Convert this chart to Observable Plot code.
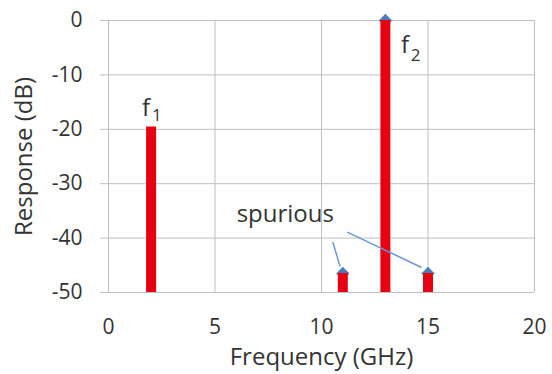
<!DOCTYPE html>
<html>
<head>
<meta charset="utf-8">
<script src="https://cdn.jsdelivr.net/npm/d3@7"></script>
<script src="https://cdn.jsdelivr.net/npm/@observablehq/plot@0.6"></script>
<style>
  html, body { margin: 0; padding: 0; background: #fff; }
  #chart svg { display: block; }
</style>
</head>
<body>
<div id="chart"></div>
<script>
// Spectral lines: frequency (GHz) and response (dB)
const lineFreq = [2, 11, 13, 15];
const lineResp = [-19.6, -46.5, 0, -46.5];

// Diamond markers (only visible on the last three lines)
const markerFreq = [11, 13, 15];
const markerResp = [-46.5, 0, -46.5];

// Axis ticks
const xTicks = [0, 5, 10, 15, 20];
const yTicks = [0, -10, -20, -30, -40, -50];

// Labels "f" with subscripts
const labelText = ["f", "f"];
const labelX = [1.76, 13.92];
const labelY = [-17.6, -6.0];
const subText = ["1", "2"];
const subX = [2.27, 14.42];
const subY = [-18.4, -7.4];

// "spurious" annotation and its leader lines
const annText = ["spurious"];
const annX = [8.3];
const annY = [-35.6];
const leadX1 = [10.53, 11.21];
const leadY1 = [-40.7, -38.9];
const leadX2 = [10.87, 14.70];
const leadY2 = [-45.2, -45.4];

const bars = lineFreq.map((f, i) => ({f, r: lineResp[i]}));
const markers = markerFreq.map((f, i) => ({f, r: markerResp[i]}));
const labels = labelText.map((t, i) => ({t, x: labelX[i], y: labelY[i]}));
const subs = subText.map((t, i) => ({t, x: subX[i], y: subY[i]}));
const anns = annText.map((t, i) => ({t, x: annX[i], y: annY[i]}));
const leads = leadX1.map((x1, i) => ({x1, y1: leadY1[i], x2: leadX2[i], y2: leadY2[i]}));

const FONT = "'Open Sans', 'Noto Sans', sans-serif";
const GRID = "#bfbfbf";
const TEXT = "#333333";

const chart = Plot.plot({
  width: 552,
  height: 374,
  marginLeft: 108,
  marginRight: 18,
  marginTop: 20,
  marginBottom: 82,
  style: {fontFamily: FONT, color: TEXT, background: "#fff"},
  x: {domain: [0, 20]},
  y: {domain: [-50, 0]},
  marks: [
    Plot.gridX(xTicks, {stroke: GRID, strokeOpacity: 1}),
    Plot.gridY(yTicks, {stroke: GRID, strokeOpacity: 1}),
    Plot.axisY({ticks: yTicks, tickSize: 8, tickPadding: 18, stroke: GRID, strokeOpacity: 1, fill: TEXT,
      fontSize: 21, tickFormat: d => String(d), label: null}),
    Plot.axisX({ticks: xTicks, tickSize: 0, tickPadding: 27, fill: TEXT, fontSize: 21,
      tickFormat: d => String(d), label: null}),
    Plot.dot(markers, {x: "f", y: "r", symbol: "diamond2", r: 6, fill: "#4a7ebb", stroke: "none"}),
    Plot.ruleX(bars, {x: "f", y1: -50, y2: "r", stroke: "#e60012", strokeWidth: 10}),
    Plot.link(leads, {x1: "x1", y1: "y1", x2: "x2", y2: "y2", stroke: "#6a97d4", strokeWidth: 1.5}),
    Plot.text(labels, {x: "x", y: "y", text: "t", fontSize: 24, fill: TEXT, lineAnchor: "bottom"}),
    Plot.text(subs, {x: "x", y: "y", text: "t", fontSize: 17, fill: TEXT, lineAnchor: "bottom"}),
    Plot.text(anns, {x: "x", y: "y", text: "t", fontSize: 24, fill: TEXT}),
    Plot.text(["Response (dB)"], {frameAnchor: "left", rotate: -90, dx: -84, fontSize: 24, fill: TEXT,
      textAnchor: "middle", lineAnchor: "middle"}),
    Plot.text(["Frequency (GHz)"], {frameAnchor: "bottom", dy: 65, fontSize: 24, fill: TEXT,
      textAnchor: "middle", lineAnchor: "middle"})
  ]
});
document.getElementById("chart").appendChild(chart);
</script>
</body>
</html>
